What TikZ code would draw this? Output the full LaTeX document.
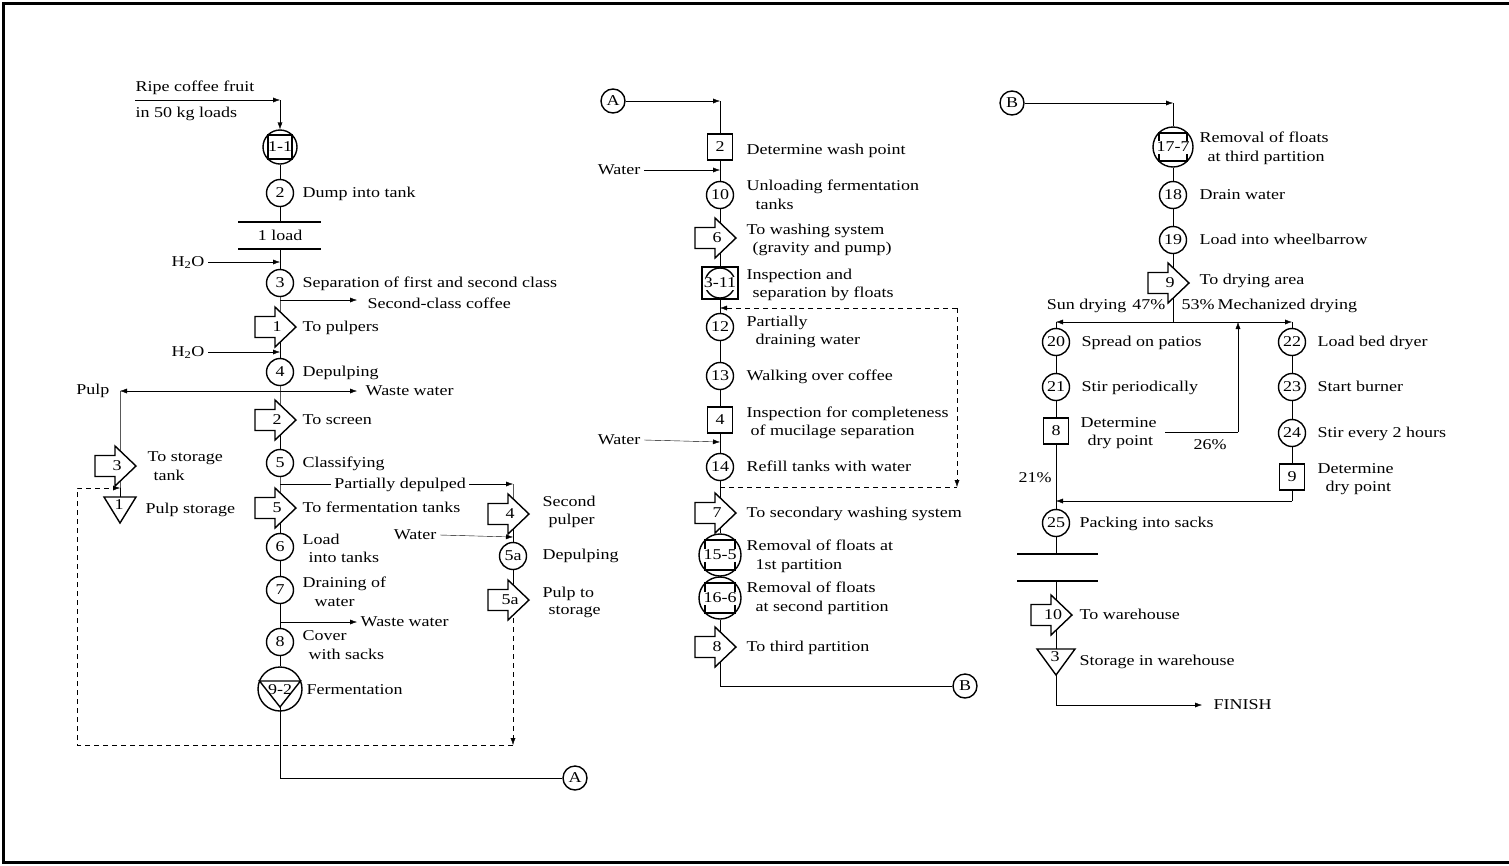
\documentclass[tikz,border=0pt]{standalone}
\usepackage{fontspec}
\setmainfont{Liberation Serif}[FakeStretch=1.2]
\usetikzlibrary{arrows.meta,calc,backgrounds}

\tikzset{
  >={Latex[length=7pt,width=5pt]},
  every node/.style={font=\fontsize{15}{17}\selectfont, inner sep=0pt},
  lab/.style={anchor=west, text height=11pt, text depth=2pt},
  labe/.style={anchor=east, text height=11pt, text depth=2pt},
  labc/.style={text height=11pt, text depth=2pt},
  op/.style={circle, draw, fill=white, minimum size=27pt, labc},
  insp/.style={rectangle, draw, fill=white, minimum width=25pt, minimum height=26pt, labc},
  link/.style={circle, draw, fill=white, minimum size=24pt, labc},
  arr/.style={->},
  rework/.style={dash pattern=on 5pt off 4pt},
}

% transport symbol: name, position, number
\newcommand\tport[3]{%
  \coordinate (#1) at #2;
  \draw[fill=white] ($(#1)+(-25,-10.5)$) -- ($(#1)+(-5,-10.5)$) -- ($(#1)+(-5,-20)$)
    -- ($(#1)+(16,0)$) -- ($(#1)+(-5,20)$) -- ($(#1)+(-5,10.5)$) -- ($(#1)+(-25,10.5)$) -- cycle;
  \node[labc] (#1n) at ($(#1)+(-3,0)$) {#3};}
% storage triangle: name, position, half width, number
\newcommand\stor[4]{%
  \coordinate (#1) at #2;
  \draw[fill=white] ($(#1)+(-#3,-13)$) -- ($(#1)+(#3,-13)$) -- ($(#1)+(0,13)$) -- cycle;
  \node[labc] (#1n) at ($(#1)+(-1,-5)$) {#4};}
% combined operation and inspection: name, position, circle diameter, square side, number
\newcommand\opinsp[5]{%
  \node[circle, draw, fill=white, minimum size=#3pt] (#1) at #2 {};
  \node[draw, minimum size=#4pt] (#1s) at #2 {};
  \node[labc, fill=white] (#1t) at #2 {#5};}

\begin{document}
\begin{tikzpicture}[x=1pt, y=-1pt, line width=1.4pt]
\useasboundingbox (0,0) rectangle (1509,865);
\draw[line width=3pt] (1509,3) -- (3,3) -- (3,862) -- (1509,862);

% ---------------- first column ----------------
\node[lab] (L1) at (135,87) {Ripe coffee fruit};
\node[lab] (L2) at (135,113) {in 50 kg loads};
\coordinate (k0) at (135,100);
\coordinate (k1) at (280,100);
\node[circle, draw, fill=white, minimum size=34pt] (n11) at (280,147) {};
\node[draw, labc, minimum width=22pt, minimum height=24pt] (n11s) at (280,147) {1-1};
\node[op] (c2) at (280,193) {2};
\node[lab] (L3) at (302,193) {Dump into tank};
\coordinate (bar1t) at (280,222);
\coordinate (bar1b) at (280,249);
\draw (238,222) -- (321,222);
\draw (238,249) -- (321,249);
\node[labc] (L4) at (280,236) {1 load};
\node[labe] (L5) at (205,262) {H\textsubscript{2}O};
\coordinate (j1) at (280,262);
\node[op] (c3) at (280,283) {3};
\node[lab] (L6) at (302,283) {Separation of first and second class};
\coordinate (b1) at (280,300);
\coordinate (e1) at (357,300);
\node[lab] (L7) at (367,304) {Second-class coffee};
\tport{t1}{(280,327)}{1}
\node[lab] (L8) at (302,327) {To pulpers};
\node[labe] (L9) at (205,352) {H\textsubscript{2}O};
\coordinate (j2) at (280,352);
\node[op] (c4) at (280,372) {4};
\node[lab] (L10) at (302,372) {Depulping};
\coordinate (b2) at (280,391);
\coordinate (k2) at (120,391);
\coordinate (e2) at (357,391);
\node[labe] (L11) at (110,390) {Pulp};
\node[lab] (L12) at (365,391) {Waste water};
\tport{t2}{(280,420)}{2}
\node[lab] (L13) at (302,420) {To screen};
\tport{t3}{(120,466)}{3}
\node[lab] (L14) at (147,457) {To storage};
\node[lab] (L15) at (153,476) {tank};
\node[op] (c5) at (280,463) {5};
\node[lab] (L16) at (302,463) {Classifying};
\coordinate (b3) at (280,484);
\node[labc, inner xsep=3pt] (L17) at (400,484) {Partially depulped};
\coordinate (k3) at (513,484);
\tport{t5}{(280,508)}{5}
\node[lab] (L18) at (302,508) {To fermentation tanks};
\stor{s1}{(120,510)}{16}{1}
\node[lab] (L19) at (145,509) {Pulp storage};
\tport{t4}{(513,514)}{4}
\node[lab] (L20) at (542,502) {Second};
\node[lab] (L21) at (548,520) {pulper};
\node[labe] (L22) at (437,535) {Water};
\coordinate (j3) at (513,537);
\node[op] (c5a) at (513,556) {5a};
\node[lab] (L23) at (542,555) {Depulping};
\tport{t5a}{(513,600)}{5a}
\node[lab] (L24) at (542,593) {Pulp to};
\node[lab] (L25) at (548,610) {storage};
\node[op] (c6) at (280,547) {6};
\node[lab] (L26) at (302,540) {Load};
\node[lab] (L27) at (308,558) {into tanks};
\node[op] (c7) at (280,590) {7};
\node[lab] (L28) at (302,583) {Draining of};
\node[lab] (L29) at (314,602) {water};
\coordinate (b4) at (280,622);
\coordinate (e4) at (357,622);
\node[lab] (L30) at (360,622) {Waste water};
\node[op] (c8) at (280,642) {8};
\node[lab] (L31) at (302,636) {Cover};
\node[lab] (L32) at (308,655) {with sacks};
\node[circle, draw, fill=white, minimum size=44pt] (f92) at (280,689) {};
\coordinate (f92a) at (280,707);
\draw (259.5,681) -- (300.5,681) -- (f92a) -- cycle;
\node[labc] (f92t) at (280,690) {9-2};
\node[lab] (L33) at (306,690) {Fermentation};
\coordinate (kA1) at (280,778);
\node[link] (A1) at (575,778) {A};
\coordinate (kd1) at (513,745);
\coordinate (kd2) at (77,745);
\coordinate (kd3) at (77,488);
\coordinate (kd4) at (120,488);

% ---------------- second column ----------------
\node[link] (A2) at (613,101) {A};
\coordinate (kA2) at (720,101);
\node[insp] (s2) at (720,147) {2};
\node[lab] (M1) at (746,150) {Determine wash point};
\node[labe] (M2) at (641,170) {Water};
\coordinate (j4) at (720,170);
\node[op] (c10) at (720,195) {10};
\node[lab] (M3) at (746,186) {Unloading fermentation};
\node[lab] (M4) at (755,205) {tanks};
\tport{t6}{(720,238)}{6}
\node[lab] (M5) at (746,230) {To washing system};
\node[lab] (M6) at (752,248) {(gravity and pump)};
\node[draw, fill=white, minimum width=36pt, minimum height=32pt] (n311) at (720,283) {};
\node[circle, draw, minimum size=30pt] (n311c) at (720,283) {};
\node[labc, fill=white] (n311t) at (720,283) {3-11};
\node[lab] (M7) at (746,275) {Inspection and};
\node[lab] (M8) at (752,293) {separation by floats};
\coordinate (kr4) at (720,308);
\coordinate (kr3) at (957,308);
\coordinate (kr2) at (957,487);
\coordinate (kr1) at (720,487);
\node[op] (c12) at (720,327) {12};
\node[lab] (M9) at (746,322) {Partially};
\node[lab] (M10) at (755,340) {draining water};
\node[op] (c13) at (720,376) {13};
\node[lab] (M11) at (746,376) {Walking over coffee};
\node[insp] (s4) at (720,420) {4};
\node[lab] (M12) at (746,413) {Inspection for completeness};
\node[lab] (M13) at (750,431) {of mucilage separation};
\node[labe] (M14) at (641,440) {Water};
\coordinate (j5) at (720,442);
\node[op] (c14) at (720,467) {14};
\node[lab] (M15) at (746,467) {Refill tanks with water};
\tport{t7}{(720,513)}{7}
\node[lab] (M16) at (746,513) {To secondary washing system};
\opinsp{n155}{(720,555)}{42}{29.7}{15-5}
\node[lab] (M17) at (746,546) {Removal of floats at};
\node[lab] (M18) at (755,565) {1st partition};
\opinsp{n166}{(720,598)}{42}{29.7}{16-6}
\node[lab] (M19) at (746,588) {Removal of floats};
\node[lab] (M20) at (755,607) {at second partition};
\tport{t8}{(720,647)}{8}
\node[lab] (M21) at (746,647) {To third partition};
\coordinate (kB1) at (720,686);
\node[link] (B1) at (965,686) {B};

% ---------------- third column ----------------
\node[link] (B2) at (1012,103) {B};
\coordinate (kB3) at (1173,103);
\opinsp{n177}{(1173,147)}{40}{28.3}{17-7}
\node[lab] (R1) at (1199,138) {Removal of floats};
\node[lab] (R2) at (1207,157) {at third partition};
\node[op] (c18) at (1173,195) {18};
\node[lab] (R3) at (1199,195) {Drain water};
\node[op] (c19) at (1173,240) {19};
\node[lab] (R4) at (1199,240) {Load into wheelbarrow};
\tport{t9}{(1173,283)}{9}
\node[lab] (R5) at (1199,280) {To drying area};
\coordinate (kS) at (1173,322);
\coordinate (kS1) at (1056,322);
\coordinate (kS2) at (1292,322);
\node[labe] (R6) at (1127,305) {Sun drying};
\node[labe] (R7) at (1166,305) {47\%};
\node[lab] (R8) at (1181,305) {53\%};
\node[lab] (R9) at (1217,305) {Mechanized drying};
\node[op] (c20) at (1056,342) {20};
\node[lab] (R10) at (1081,342) {Spread on patios};
\node[op] (c21) at (1056,387) {21};
\node[lab] (R11) at (1081,387) {Stir periodically};
\node[insp] (s8) at (1056,431) {8};
\node[lab] (R12) at (1080,423) {Determine};
\node[lab] (R13) at (1087,441) {dry point};
\coordinate (k26a) at (1165,432);
\coordinate (k26b) at (1238,432);
\coordinate (k26c) at (1238,322);
\node[labc] (R14) at (1210,445) {26\%};
\node[op] (c22) at (1292,342) {22};
\node[lab] (R15) at (1317,342) {Load bed dryer};
\node[op] (c23) at (1292,387) {23};
\node[lab] (R16) at (1317,387) {Start burner};
\node[op] (c24) at (1292,433) {24};
\node[lab] (R17) at (1317,433) {Stir every 2 hours};
\node[insp] (s9) at (1292,477) {9};
\node[lab] (R18) at (1317,469) {Determine};
\node[lab] (R19) at (1325,487) {dry point};
\node[labc] (R20) at (1035,478) {21\%};
\coordinate (kJ1) at (1292,501);
\coordinate (kJ2) at (1056,501);
\node[op] (c25) at (1056,523) {25};
\node[lab] (R21) at (1079,523) {Packing into sacks};
\coordinate (bar3t) at (1056,554);
\coordinate (bar3b) at (1056,581);
\draw (1017,554) -- (1098,554);
\draw (1017,581) -- (1098,581);
\tport{t10}{(1056,615)}{10}
\node[lab] (R22) at (1079,615) {To warehouse};
\stor{s3}{(1056,662)}{19}{3}
\node[lab] (R23) at (1079,661) {Storage in warehouse};
\coordinate (kF1) at (1056,705);
\coordinate (kF2) at (1202,705);
\node[lab] (R24) at (1213,705) {FINISH};

% ---------------- connectors ----------------
\begin{pgfonlayer}{background}
  \draw (n11) -- (c2) -- (bar1t);
  \draw (bar1b) -- (c3) -- (t1) -- (c4) -- (t2) -- (c5) -- (t5) -- (c6) -- (c7) -- (c8) -- (f92);
  \draw (k2) -- (t3) -- (s1);
  \draw (k3) -- (t4) -- (c5a) -- (t5a);
  \draw[rework, arr] (t5a) -- (kd1);
  \draw (kA2) -- (s2) -- (c10) -- (t6) -- (n311) -- (c12) -- (c13) -- (s4) -- (c14) -- (t7)
        -- (n155) -- (n166) -- (t8) -- (kB1);
  \draw (kB3) -- (n177) -- (c18) -- (c19) -- (t9) -- (kS);
  \draw (kS1) -- (c20) -- (c21) -- (s8) -- (c25) -- (bar3t);
  \draw (bar3b) -- (t10) -- (s3) -- (kF1);
  \draw (kS2) -- (c22) -- (c23) -- (c24) -- (s9) -- (kJ1);
\end{pgfonlayer}

\draw[arr] (k0) -- (k1);
\draw[arr] (k1) -- (n11);
\draw[arr] ([xshift=3pt]L5.east) -- (j1);
\draw[arr] (b1) -- (e1);
\draw[arr] ([xshift=3pt]L9.east) -- (j2);
\draw[arr] (b2) -- (k2);
\draw[arr] (b2) -- (e2);
\draw (b3) -- (L17.west);
\draw[arr] (L17.east) -- (k3);
\draw[arr] ([xshift=3pt]L22.east) -- (j3);
\draw[arr] (b4) -- (e4);
\draw (f92a) -- (kA1) -- (A1);
\draw[rework, arr] (kd1) -- (kd2) -- (kd3) -- (kd4);

\draw[arr] (A2) -- (kA2);
\draw[arr] ([xshift=3pt]M2.east) -- (j4);
\draw[arr] ([xshift=3pt]M14.east) -- (j5);
\draw[rework] (kr1) -- (kr2);
\draw[rework, arr] (kr3) -- (kr2);
\draw[rework, arr] (kr3) -- (kr4);
\draw (kB1) -- (B1);

\draw[arr] (B2) -- (kB3);
\draw[arr] (kS) -- (kS1);
\draw[arr] (kS) -- (kS2);
\draw (k26a) -- (k26b);
\draw[arr] (k26b) -- (k26c);
\draw[arr] (kJ1) -- (kJ2);
\draw[arr] (kF1) -- (kF2);
\end{tikzpicture}
\end{document}
